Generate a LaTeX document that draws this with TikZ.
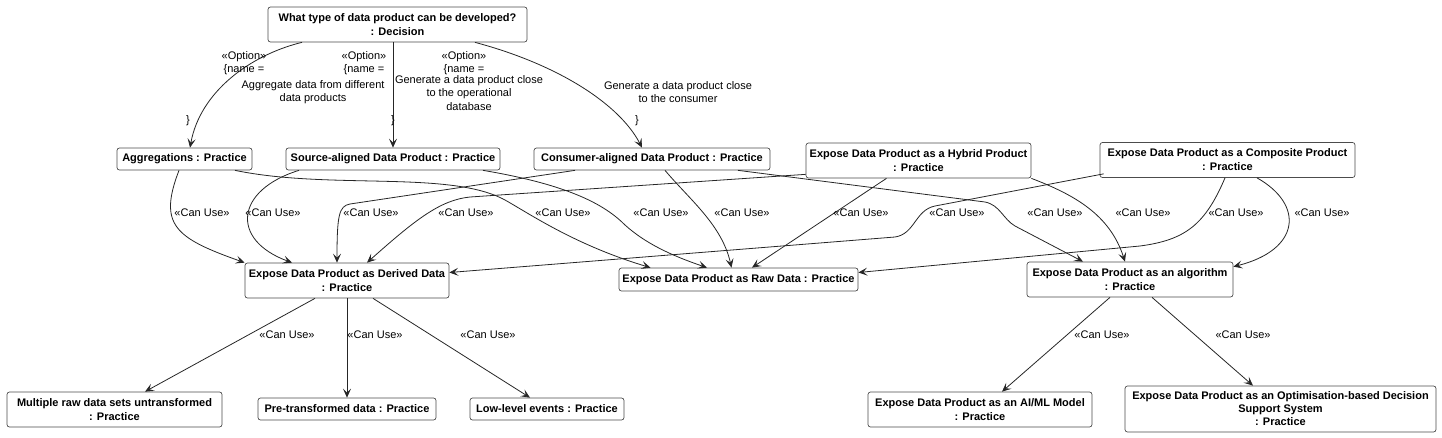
\documentclass[tikz,border=0pt]{standalone}
\usepackage{fontspec}
\setmainfont{Liberation Sans}
\usetikzlibrary{arrows.meta}
\begin{document}
\begin{tikzpicture}[x=1pt,y=-1pt,
  box/.style={draw=black!70, line width=0.7pt, rounded corners=2.5pt, fill=white, align=center, inner sep=0pt, font=\fontsize{11}{14}\selectfont\bfseries},
  lbl/.style={font=\fontsize{11}{13.5}\selectfont, inner sep=0pt, align=center},
  uses/.style={black!85, line width=0.8pt, -{Stealth[length=9pt,width=8pt,inset=4pt]}}]
\useasboundingbox (0,0) rectangle (1442,437);
\node[box, minimum width=259pt, minimum height=35pt] (decision) at (397.5,24.5) {What type of data product can be developed?\\: Decision};
\node[box, minimum width=135pt, minimum height=22pt] (aggregations) at (184.5,159) {Aggregations : Practice};
\node[box, minimum width=214pt, minimum height=22pt] (source) at (393,159) {Source-aligned Data Product : Practice};
\node[box, minimum width=236pt, minimum height=22pt] (consumer) at (652,159) {Consumer-aligned Data Product : Practice};
\node[box, minimum width=225pt, minimum height=35pt] (hybrid) at (918.5,160.5) {Expose Data Product as a Hybrid Product\\: Practice};
\node[box, minimum width=255pt, minimum height=35pt] (composite) at (1227.5,160) {Expose Data Product as a Composite Product\\: Practice};
\node[box, minimum width=204pt, minimum height=35pt] (derived) at (347,280.5) {Expose Data Product as Derived Data\\: Practice};
\node[box, minimum width=239pt, minimum height=23pt] (raw) at (738.5,279.5) {Expose Data Product as Raw Data : Practice};
\node[box, minimum width=206pt, minimum height=35pt] (algorithm) at (1130,279.5) {Expose Data Product as an algorithm\\: Practice};
\node[box, minimum width=215pt, minimum height=35pt] (multiple) at (114.5,409.5) {Multiple raw data sets untransformed\\: Practice};
\node[box, minimum width=178pt, minimum height=22pt] (pretransformed) at (347,409) {Pre-transformed data : Practice};
\node[box, minimum width=154pt, minimum height=22pt] (lowlevel) at (547,409) {Low-level events : Practice};
\node[box, minimum width=224pt, minimum height=35pt] (aiml) at (980,409.5) {Expose Data Product as an AI/ML Model\\: Practice};
\node[box, minimum width=311pt, minimum height=46pt, font=\fontsize{11}{13}\selectfont\bfseries] (optimisation) at (1280.5,409) {Expose Data Product as an Optimisation-based Decision\\Support System\\: Practice};

\draw[uses] ([xshift=-95.5pt]decision.south) .. controls (250,55) and (200,92) .. ([xshift=5.5pt]aggregations.north);
\draw[uses] (decision.south -| source.north) -- (source.north);
\draw[uses] ([xshift=77.5pt]decision.south) .. controls (560,65) and (620,105) .. ([xshift=-10pt]consumer.north);
\node[lbl] (option1) at (244,63) {«Option»\\\{name =};
\node[lbl] (name1) at (313,92) {Aggregate data from different\\data products};
\node[lbl] (close1) at (188,121) {\}};
\node[lbl] (option2) at (364,63) {«Option»\\\{name =};
\node[lbl] (name2) at (469,93) {Generate a data product close\\to the operational\\database};
\node[lbl] (close2) at (393,121) {\}};
\node[lbl] (option3) at (464,63) {«Option»\\\{name =};
\node[lbl] (name3) at (678,92) {Generate a data product close\\to the consumer};
\node[lbl] (close3) at (637,121) {\}};

\draw[uses] ([xshift=-5.5pt]aggregations.south) .. controls (158,225) and (175,238) .. (derived.north west);
\draw[uses] ([xshift=-94pt]source.south) .. controls (235,190) and (230,240) .. ([xshift=-55pt]derived.north);
\draw[uses] ([xshift=-77pt]consumer.south) -- (350,204) .. controls (339,206) and (337,215) .. ([xshift=-10pt]derived.north);
\draw[uses] ([yshift=4pt]hybrid.south west) -- (470,197) .. controls (440,200) and (415,220) .. ([xshift=20pt]derived.north);
\draw[uses] ([xshift=4pt,yshift=4pt]composite.south west) -- (935,206) .. controls (915,210) and (915,234) .. (895,237) -- ([yshift=8pt]derived.east);
\draw[uses] ([xshift=50.5pt]aggregations.south) .. controls (330,190) and (450,170) .. (505,200) .. controls (530,214) and (575,245) .. ([xshift=-88pt]raw.north);
\draw[uses] ([xshift=90pt]source.south) .. controls (570,185) and (605,205) .. (625,225) .. controls (645,243) and (670,255) .. ([xshift=-31.5pt]raw.north);
\draw[uses] ([xshift=13pt]consumer.south) .. controls (690,200) and (722,225) .. ([xshift=-7pt]raw.north);
\draw[uses] ([xshift=-32pt]hybrid.south) -- ([xshift=13.5pt]raw.north);
\draw[uses] ([xshift=-2.5pt]composite.south) .. controls (1205,225) and (1185,240) .. (1140,246) -- ([yshift=7pt]raw.east);
\draw[uses] ([xshift=86pt]consumer.south) -- (985,202) .. controls (1000,205) and (1003,219) .. (1015,226) -- ([xshift=-47pt]algorithm.north);
\draw[uses] (hybrid.south east) .. controls (1075,195) and (1110,215) .. ([xshift=-5pt]algorithm.north);
\draw[uses] ([xshift=29.5pt]composite.south) .. controls (1305,205) and (1300,250) .. ([yshift=-5pt]algorithm.north east);
\node[lbl] (use1) at (202,213) {«Can Use»};
\node[lbl] (use2) at (273,213) {«Can Use»};
\node[lbl] (use3) at (371,213) {«Can Use»};
\node[lbl] (use4) at (466,213) {«Can Use»};
\node[lbl] (use5) at (563,213) {«Can Use»};
\node[lbl] (use6) at (661,213) {«Can Use»};
\node[lbl] (use7) at (742,213) {«Can Use»};
\node[lbl] (use8) at (861,213) {«Can Use»};
\node[lbl] (use9) at (957,213) {«Can Use»};
\node[lbl] (use10) at (1055,213) {«Can Use»};
\node[lbl] (use11) at (1143,213) {«Can Use»};
\node[lbl] (use12) at (1236,213) {«Can Use»};
\node[lbl] (use13) at (1322,213) {«Can Use»};

\draw[uses] ([xshift=-32pt]derived.south) -- ([xshift=30.5pt]multiple.north);
\draw[uses] (derived.south) -- (pretransformed.north);
\draw[uses] ([xshift=26pt]derived.south) -- ([xshift=-17pt]lowlevel.north);
\draw[uses] ([xshift=-20pt]algorithm.south) -- ([xshift=22pt]aiml.north);
\draw[uses] ([xshift=22pt]algorithm.south) -- ([xshift=-27.5pt]optimisation.north);
\node[lbl] (use14) at (287,335) {«Can Use»};
\node[lbl] (use15) at (375,335) {«Can Use»};
\node[lbl] (use16) at (488,335) {«Can Use»};
\node[lbl] (use17) at (1102,335) {«Can Use»};
\node[lbl] (use18) at (1243,335) {«Can Use»};
\end{tikzpicture}
\end{document}
